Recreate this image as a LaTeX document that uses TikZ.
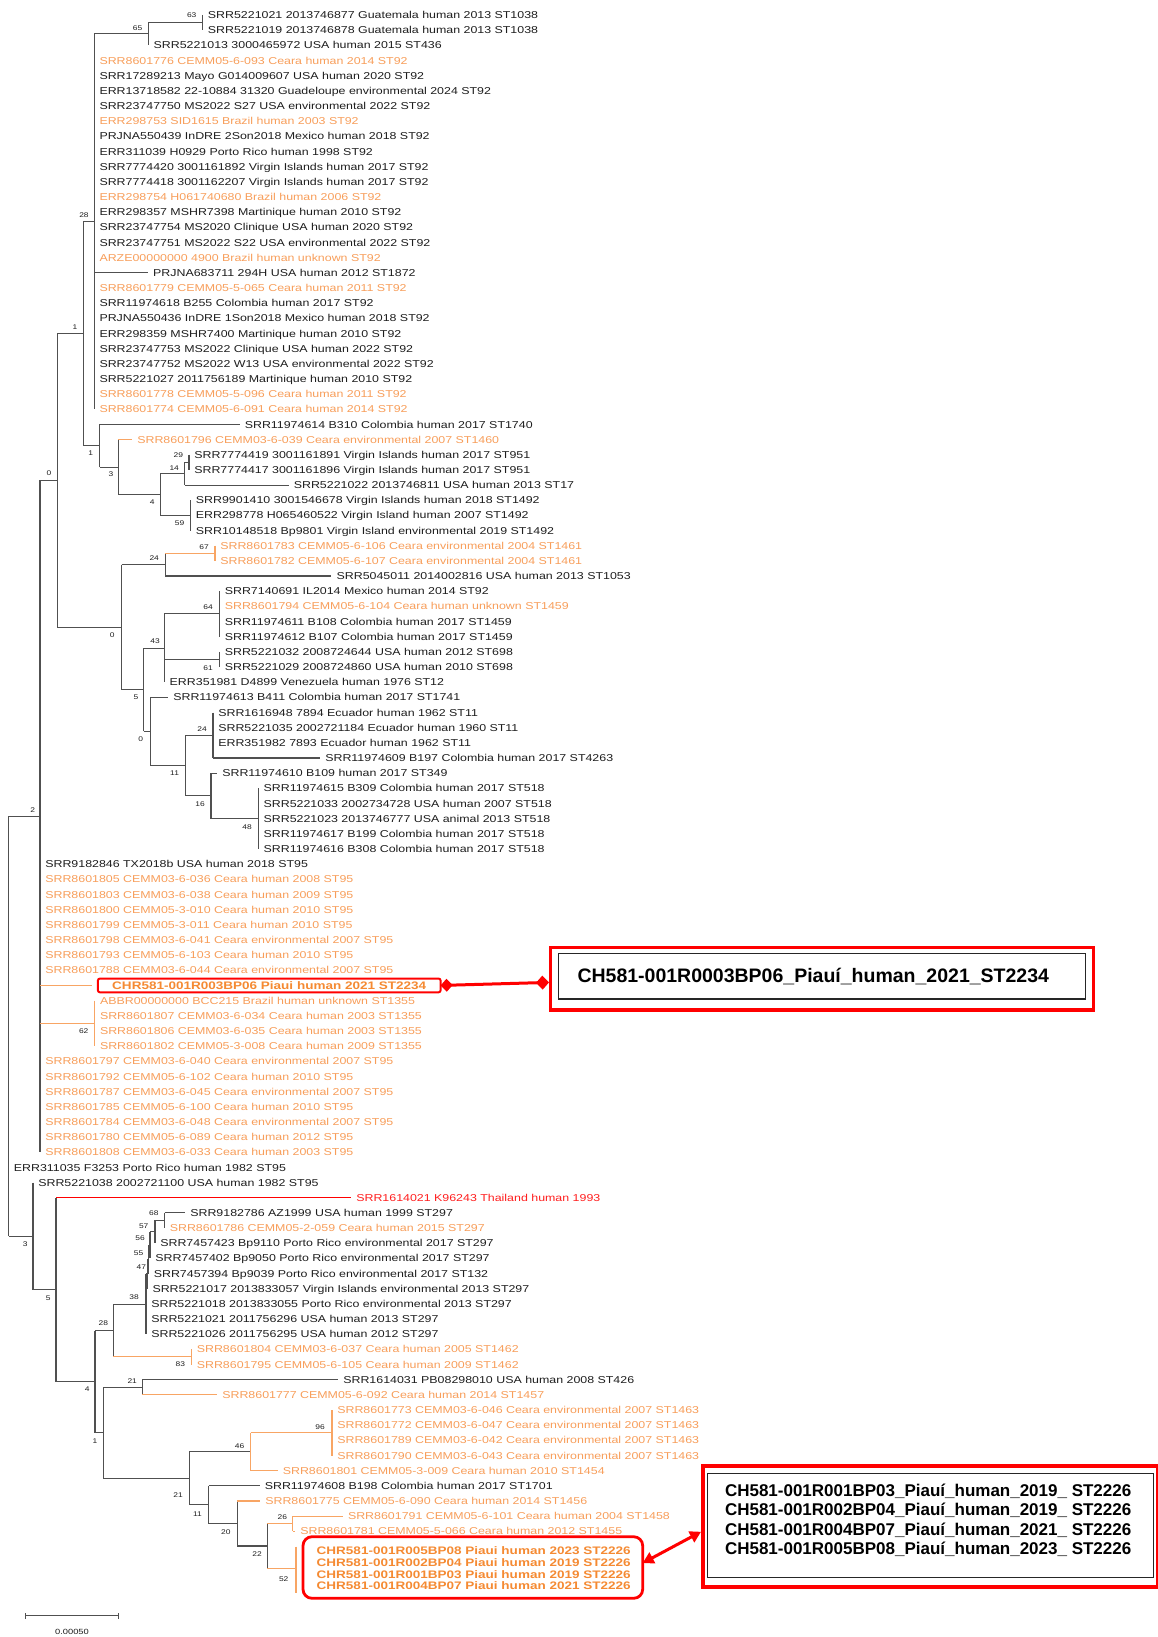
\documentclass[tikz,border=0pt]{standalone}
\usepackage{fontspec}
\setmainfont{Liberation Sans}[FakeStretch=1.24]
\newfontfamily\boxfont{Liberation Sans}
\usetikzlibrary{arrows.meta}
\definecolor{txtbk}{RGB}{30,30,30}
\definecolor{txtor}{RGB}{248,158,90}
\definecolor{treeor}{RGB}{248,165,100}
\definecolor{boldor}{RGB}{245,138,50}
\definecolor{txtred}{RGB}{255,30,30}
\definecolor{bred}{RGB}{255,0,0}
\definecolor{treegr}{RGB}{80,80,80}
\newcommand\ry[1]{15+(#1-1)*15.163}
\newcommand\leafnode[4][lf]{\node[#1] (l#2) at (#3,{\ry{#2}}) {#4};}
\newcommand\hb[3][br]{\draw[#1] (#2 |- #3) -- (#3);}
\newcommand\vb[4][br]{\draw[#1] (#2 |- #3) -- (#2 |- #4);}
\begin{document}
\begin{tikzpicture}[x=1pt,y=-1pt,
 br/.style={draw=treegr, line width=1.1pt},
 bro/.style={draw=treeor, line width=1.1pt},
 brr/.style={draw=bred, line width=1.1pt},
 lf/.style={anchor=west, inner xsep=5.3pt, inner ysep=0pt, outer sep=0pt, font=\fontsize{10}{12}\selectfont, text height=7.2pt, text depth=0pt, text=txtbk},
 lfo/.style={lf, text=txtor},
 lfr/.style={lf, text=txtred},
 lfb/.style={anchor=west, inner sep=0pt, outer sep=0pt, font=\bfseries\fontsize{10.9}{12}\selectfont, text=boldor, text height=7.8pt, text depth=0pt},
 bs/.style={inner sep=0pt, outer sep=0pt, font=\fontsize{6.8}{8}\selectfont, text height=4.9pt, text depth=0pt, text=txtbk},
 bxt/.style={anchor=west, inner sep=0pt, outer sep=0pt, text=black, font=\boxfont\bfseries\fontsize{17}{19}\selectfont, text height=12.2pt, text depth=0pt}
]
\fill[white] (0,0) rectangle (1158,1637);
\useasboundingbox (0,0) rectangle (1158,1637);

% ---------- leaves ----------
\leafnode{1}{202.6}{SRR5221021 2013746877 Guatemala human 2013 ST1038}
\leafnode{2}{202.6}{SRR5221019 2013746878 Guatemala human 2013 ST1038}
\leafnode{3}{148.3}{SRR5221013 3000465972 USA human 2015 ST436}
\leafnode[lfo]{4}{94.2}{SRR8601776 CEMM05-6-093 Ceara human 2014 ST92}
\leafnode{5}{94.2}{SRR17289213 Mayo G014009607 USA human 2020 ST92}
\leafnode{6}{94.2}{ERR13718582 22-10884 31320 Guadeloupe environmental 2024 ST92}
\leafnode{7}{94.2}{SRR23747750 MS2022 S27 USA environmental 2022 ST92}
\leafnode[lfo]{8}{94.2}{ERR298753 SID1615 Brazil human 2003 ST92}
\leafnode{9}{94.2}{PRJNA550439 InDRE 2Son2018 Mexico human 2018 ST92}
\leafnode{10}{94.2}{ERR311039 H0929 Porto Rico human 1998 ST92}
\leafnode{11}{94.2}{SRR7774420 3001161892 Virgin Islands human 2017 ST92}
\leafnode{12}{94.2}{SRR7774418 3001162207 Virgin Islands human 2017 ST92}
\leafnode[lfo]{13}{94.2}{ERR298754 H061740680 Brazil human 2006 ST92}
\leafnode{14}{94.2}{ERR298357 MSHR7398 Martinique human 2010 ST92}
\leafnode{15}{94.2}{SRR23747754 MS2020 Clinique USA human 2020 ST92}
\leafnode{16}{94.2}{SRR23747751 MS2022 S22 USA environmental 2022 ST92}
\leafnode[lfo]{17}{94.2}{ARZE00000000 4900 Brazil human unknown ST92}
\leafnode{18}{147.9}{PRJNA683711 294H USA human 2012 ST1872}
\leafnode[lfo]{19}{94.2}{SRR8601779 CEMM05-5-065 Ceara human 2011 ST92}
\leafnode{20}{94.2}{SRR11974618 B255 Colombia human 2017 ST92}
\leafnode{21}{94.2}{PRJNA550436 InDRE 1Son2018 Mexico human 2018 ST92}
\leafnode{22}{94.2}{ERR298359 MSHR7400 Martinique human 2010 ST92}
\leafnode{23}{94.2}{SRR23747753 MS2022 Clinique USA human 2022 ST92}
\leafnode{24}{94.2}{SRR23747752 MS2022 W13 USA environmental 2022 ST92}
\leafnode{25}{94.2}{SRR5221027 2011756189 Martinique human 2010 ST92}
\leafnode[lfo]{26}{94.2}{SRR8601778 CEMM05-5-096 Ceara human 2011 ST92}
\leafnode[lfo]{27}{94.2}{SRR8601774 CEMM05-6-091 Ceara human 2014 ST92}
\leafnode{28}{239.5}{SRR11974614 B310 Colombia human 2017 ST1740}
\leafnode[lfo]{29}{132}{SRR8601796 CEMM03-6-039 Ceara environmental 2007 ST1460}
\leafnode{30}{189}{SRR7774419 3001161891 Virgin Islands human 2017 ST951}
\leafnode{31}{189}{SRR7774417 3001161896 Virgin Islands human 2017 ST951}
\leafnode{32}{288.5}{SRR5221022 2013746811 USA human 2013 ST17}
\leafnode{33}{190.6}{SRR9901410 3001546678 Virgin Islands human 2018 ST1492}
\leafnode{34}{190.6}{ERR298778 H065460522 Virgin Island human 2007 ST1492}
\leafnode{35}{190.6}{SRR10148518 Bp9801 Virgin Island environmental 2019 ST1492}
\leafnode[lfo]{36}{215}{SRR8601783 CEMM05-6-106 Ceara environmental 2004 ST1461}
\leafnode[lfo]{37}{215}{SRR8601782 CEMM05-6-107 Ceara environmental 2004 ST1461}
\leafnode{38}{331.3}{SRR5045011 2014002816 USA human 2013 ST1053}
\leafnode{39}{219.5}{SRR7140691 IL2014 Mexico human 2014 ST92}
\leafnode[lfo]{40}{219.5}{SRR8601794 CEMM05-6-104 Ceara human unknown ST1459}
\leafnode{41}{219.5}{SRR11974611 B108 Colombia human 2017 ST1459}
\leafnode{42}{219.5}{SRR11974612 B107 Colombia human 2017 ST1459}
\leafnode{43}{219.5}{SRR5221032 2008724644 USA human 2012 ST698}
\leafnode{44}{219.5}{SRR5221029 2008724860 USA human 2010 ST698}
\leafnode{45}{164.4}{ERR351981 D4899 Venezuela human 1976 ST12}
\leafnode{46}{168}{SRR11974613 B411 Colombia human 2017 ST1741}
\leafnode{47}{213}{SRR1616948 7894 Ecuador human 1962 ST11}
\leafnode{48}{213}{SRR5221035 2002721184 Ecuador human 1960 ST11}
\leafnode{49}{213}{ERR351982 7893 Ecuador human 1962 ST11}
\leafnode{50}{320}{SRR11974609 B197 Colombia human 2017 ST4263}
\leafnode{51}{217}{SRR11974610 B109 human 2017 ST349}
\leafnode{52}{258.3}{SRR11974615 B309 Colombia human 2017 ST518}
\leafnode{53}{258.3}{SRR5221033 2002734728 USA human 2007 ST518}
\leafnode{54}{258.3}{SRR5221023 2013746777 USA animal 2013 ST518}
\leafnode{55}{258.3}{SRR11974617 B199 Colombia human 2017 ST518}
\leafnode{56}{258.3}{SRR11974616 B308 Colombia human 2017 ST518}
\leafnode{57}{40}{SRR9182846 TX2018b USA human 2018 ST95}
\leafnode[lfo]{58}{40}{SRR8601805 CEMM03-6-036 Ceara human 2008 ST95}
\leafnode[lfo]{59}{40}{SRR8601803 CEMM03-6-038 Ceara human 2009 ST95}
\leafnode[lfo]{60}{40}{SRR8601800 CEMM05-3-010 Ceara human 2010 ST95}
\leafnode[lfo]{61}{40}{SRR8601799 CEMM05-3-011 Ceara human 2010 ST95}
\leafnode[lfo]{62}{40}{SRR8601798 CEMM03-6-041 Ceara environmental 2007 ST95}
\leafnode[lfo]{63}{40}{SRR8601793 CEMM05-6-103 Ceara human 2010 ST95}
\leafnode[lfo]{64}{40}{SRR8601788 CEMM03-6-044 Ceara environmental 2007 ST95}
\node[lfb, draw=bred, line width=2pt, rounded corners=2pt, minimum width=342.7pt, minimum height=13.7pt] (l65) at (97.9,{\ry{65}}) {CHR581-001R003BP06 Piaui human 2021 ST2234};
\leafnode[lfo]{66}{94.7}{ABBR00000000 BCC215 Brazil human unknown ST1355}
\leafnode[lfo]{67}{94.7}{SRR8601807 CEMM03-6-034 Ceara human 2003 ST1355}
\leafnode[lfo]{68}{94.7}{SRR8601806 CEMM03-6-035 Ceara human 2003 ST1355}
\leafnode[lfo]{69}{94.7}{SRR8601802 CEMM05-3-008 Ceara human 2009 ST1355}
\leafnode[lfo]{70}{40}{SRR8601797 CEMM03-6-040 Ceara environmental 2007 ST95}
\leafnode[lfo]{71}{40}{SRR8601792 CEMM05-6-102 Ceara human 2010 ST95}
\leafnode[lfo]{72}{40}{SRR8601787 CEMM03-6-045 Ceara environmental 2007 ST95}
\leafnode[lfo]{73}{40}{SRR8601785 CEMM05-6-100 Ceara human 2010 ST95}
\leafnode[lfo]{74}{40}{SRR8601784 CEMM03-6-048 Ceara environmental 2007 ST95}
\leafnode[lfo]{75}{40}{SRR8601780 CEMM05-6-089 Ceara human 2012 ST95}
\leafnode[lfo]{76}{40}{SRR8601808 CEMM03-6-033 Ceara human 2003 ST95}
\leafnode{77}{8.6}{ERR311035 F3253 Porto Rico human 1982 ST95}
\leafnode{78}{33}{SRR5221038 2002721100 USA human 1982 ST95}
\leafnode[lfr]{79}{351}{SRR1614021 K96243 Thailand human 1993}
\leafnode{80}{185}{SRR9182786 AZ1999 USA human 1999 ST297}
\leafnode[lfo]{81}{164.5}{SRR8601786 CEMM05-2-059 Ceara human 2015 ST297}
\leafnode{82}{155}{SRR7457423 Bp9110 Porto Rico environmental 2017 ST297}
\leafnode{83}{150}{SRR7457402 Bp9050 Porto Rico environmental 2017 ST297}
\leafnode{84}{148.5}{SRR7457394 Bp9039 Porto Rico environmental 2017 ST132}
\leafnode{85}{147.2}{SRR5221017 2013833057 Virgin Islands environmental 2013 ST297}
\leafnode{86}{146}{SRR5221018 2013833055 Porto Rico environmental 2013 ST297}
\leafnode{87}{146}{SRR5221021 2011756296 USA human 2013 ST297}
\leafnode{88}{146}{SRR5221026 2011756295 USA human 2012 ST297}
\leafnode[lfo]{89}{191.5}{SRR8601804 CEMM03-6-037 Ceara human 2005 ST1462}
\leafnode[lfo]{90}{191.5}{SRR8601795 CEMM05-6-105 Ceara human 2009 ST1462}
\leafnode{91}{338}{SRR1614031 PB08298010 USA human 2008 ST426}
\leafnode[lfo]{92}{217}{SRR8601777 CEMM05-6-092 Ceara human 2014 ST1457}
\leafnode[lfo]{93}{332}{SRR8601773 CEMM03-6-046 Ceara environmental 2007 ST1463}
\leafnode[lfo]{94}{332}{SRR8601772 CEMM03-6-047 Ceara environmental 2007 ST1463}
\leafnode[lfo]{95}{332}{SRR8601789 CEMM03-6-042 Ceara environmental 2007 ST1463}
\leafnode[lfo]{96}{332}{SRR8601790 CEMM03-6-043 Ceara environmental 2007 ST1463}
\leafnode[lfo]{97}{277.5}{SRR8601801 CEMM05-3-009 Ceara human 2010 ST1454}
\leafnode{98}{259.5}{SRR11974608 B198 Colombia human 2017 ST1701}
\leafnode[lfo]{99}{260}{SRR8601775 CEMM05-6-090 Ceara human 2014 ST1456}
\leafnode[lfo]{100}{342.7}{SRR8601791 CEMM05-6-101 Ceara human 2004 ST1458}
\leafnode[lfo]{101}{295}{SRR8601781 CEMM05-5-066 Ceara human 2012 ST1455}
\node[lfb] (l102) at (316.7,1550.6) {CHR581-001R005BP08 Piaui human 2023 ST2226};
\node[lfb] (l103) at (316.7,1562.4) {CHR581-001R002BP04 Piaui human 2019 ST2226};
\node[lfb] (l104) at (316.7,1574.2) {CHR581-001R001BP03 Piaui human 2019 ST2226};
\node[lfb] (l105) at (316.7,1586) {CHR581-001R004BP07 Piaui human 2021 ST2226};

% ---------- internal nodes ----------
\coordinate (n63) at (202.6,22.58);
\coordinate (n65) at (148.3,33.95);
\coordinate (n28) at (94.2,221.6);
\coordinate (n1) at (83.4,333.66);
\coordinate (n29) at (189,462.31);
\coordinate (n14) at (184.8,473.68);
\coordinate (n59) at (190.6,515.38);
\coordinate (n4) at (160.4,494.53);
\coordinate (n3) at (118.4,467.05);
\coordinate (n1b) at (99.5,445.72);
\coordinate (n0) at (57.1,480.43);
\coordinate (n67) at (215,553.29);
\coordinate (n24a) at (165.2,564.66);
\coordinate (n64) at (219.5,613.94);
\coordinate (n61) at (219.5,659.43);
\coordinate (n43) at (164.4,648.05);
\coordinate (n24b) at (213,735.24);
\coordinate (n48) at (258.3,818.64);
\coordinate (n16) at (211,795.9);
\coordinate (n11) at (185.7,765.57);
\coordinate (n0c) at (150.1,731.45);
\coordinate (n5) at (143.6,689.75);
\coordinate (n0b) at (121.6,627.2);
\coordinate (n62) at (94.7,1023.34);
\coordinate (n2) at (40,816.33);
\coordinate (c65) at (91.8,{\ry{65}});
\coordinate (nroot) at (8.6,1026.2);
\coordinate (n3r) at (33,1236.1);
\coordinate (n5r) at (56,1289.7);
\coordinate (n68) at (164.5,1220.46);
\coordinate (n57) at (155,1231.8);
\coordinate (n56) at (150,1245.1);
\coordinate (n55) at (148.5,1259.3);
\coordinate (n47) at (147.2,1274);
\coordinate (n38) at (146,1304.1);
\coordinate (n83) at (191.5,1356.93);
\coordinate (n28r) at (113.4,1330.5);
\coordinate (n21a) at (142.3,1387.25);
\coordinate (n96) at (332,1432.74);
\coordinate (n46) at (250.6,1451.7);
\coordinate (n26) at (292.8,1523.7);
\coordinate (n52) at (296,1568.3);
\coordinate (n52t) at (296,1546.7);
\coordinate (n52b) at (296,1592.7);
\coordinate (n22) at (267.1,1546);
\coordinate (n20) at (237.3,1523.5);
\coordinate (n11r) at (208.8,1504.7);
\coordinate (n21b) at (189.1,1478.2);
\coordinate (n1r) at (103.3,1432.7);
\coordinate (n4r) at (95,1381.6);

% ---------- branches ----------
\vb{n63}{l1.west}{l2.west}
\vb{n65}{n63}{l3.west} \hb{n65}{n63}
\vb{n28}{n65}{l27.west} \hb{n28}{n65} \hb{n28}{l18.west}
\vb{n1}{n28}{n1b} \hb{n1}{n28} \hb{n1}{n1b}
\vb{n1b}{l28.west}{n3} \hb{n1b}{l28.west} \hb{n1b}{n3}
\vb{n3}{l29.west}{n4} \hb[bro]{n3}{l29.west} \hb{n3}{n4}
\vb{n4}{n14}{n59} \hb{n4}{n14} \hb{n4}{n59}
\vb{n14}{n29}{l32.west} \hb{n14}{n29} \hb{n14}{l32.west}
\vb{n29}{l30.west}{l31.west}
\vb{n59}{l33.west}{l35.west}
\vb{n0}{n1}{n0b} \hb{n0}{n1} \hb{n0}{n0b}
\vb{n0b}{n24a}{n5} \hb{n0b}{n24a} \hb{n0b}{n5}
\vb{n24a}{n67}{l38.west} \hb[bro]{n24a}{n67} \hb{n24a}{l38.west}
\vb[bro]{n67}{l36.west}{l37.west}
\vb{n5}{n43}{n0c} \hb{n5}{n43} \hb{n5}{n0c}
\vb{n43}{n64}{l45.west} \hb{n43}{n64} \hb{n43}{n61}
\vb{n64}{l39.west}{l42.west}
\vb{n61}{l43.west}{l44.west}
\vb{n0c}{l46.west}{n11} \hb{n0c}{l46.west} \hb{n0c}{n11}
\vb{n11}{n24b}{n16} \hb{n11}{n24b} \hb{n11}{n16}
\vb{n24b}{l47.west}{l50.west} \hb{n24b}{l50.west}
\vb{n16}{l51.west}{n48} \hb{n16}{l51.west} \hb{n16}{n48}
\vb{n48}{l52.west}{l56.west}
\vb{n2}{n0}{l76.west} \hb{n2}{n0} \hb[bro]{n2}{n62} \hb[bro]{n2}{c65}
\vb[bro]{n62}{l66.west}{l69.west}
\vb{nroot}{n2}{n3r} \hb{nroot}{n2} \hb{nroot}{n3r}
\vb{n3r}{l78.west}{n5r} \hb{n3r}{n5r}
\vb{n5r}{l79.west}{n4r} \hb[brr]{n5r}{l79.west} \hb{n5r}{n4r}
\vb{n4r}{n28r}{n1r} \hb{n4r}{n28r} \hb{n4r}{n1r}
\vb{n28r}{n38}{n83} \hb{n28r}{n38} \hb[bro]{n28r}{n83}
\vb[bro]{n83}{l89.west}{l90.west}
\vb{n38}{n47}{l88.west} \hb{n38}{n47}
\vb{n47}{n55}{l85.west} \hb{n47}{n55}
\vb{n55}{n56}{l84.west} \hb{n55}{n56}
\vb{n56}{n57}{l83.west} \hb{n56}{n57}
\vb{n57}{n68}{l82.west} \hb{n57}{n68}
\vb{n68}{l80.west}{l81.west} \hb{n68}{l80.west}
\vb{n1r}{n21a}{n21b} \hb{n1r}{n21a} \hb{n1r}{n21b}
\vb{n21a}{l91.west}{l92.west} \hb{n21a}{l91.west} \hb[bro]{n21a}{l92.west}
\vb{n21b}{n46}{n11r} \hb{n21b}{n46} \hb{n21b}{n11r}
\vb[bro]{n46}{n96}{l97.west} \hb[bro]{n46}{n96} \hb[bro]{n46}{l97.west}
\vb[bro]{n96}{l93.west}{l96.west}
\vb{n11r}{l98.west}{n20} \hb{n11r}{l98.west} \hb{n11r}{n20}
\vb{n20}{l99.west}{n22} \hb[bro]{n20}{l99.west} \hb{n20}{n22}
\vb{n22}{n26}{n52} \hb[bro]{n22}{n26} \hb[bro]{n22}{n52}
\vb[bro]{n26}{l100.west}{l101.west} \hb[bro]{n26}{l100.west} \hb[bro]{n26}{l101.west}
\draw[bro, line width=2.2pt] (n52t) -- (n52b);

% ---------- bootstrap values ----------
\node[bs] (b01) at (191.7,15) {63};
\node[bs] (b02) at (137.5,28) {65};
\node[bs] (b03) at (84,215) {28};
\node[bs] (b04) at (75,326.7) {1};
\node[bs] (b05) at (49,473.3) {0};
\node[bs] (b06) at (90.6,453.3) {1};
\node[bs] (b07) at (111,474) {3};
\node[bs] (b08) at (178.3,455.3) {29};
\node[bs] (b09) at (174.2,467.7) {14};
\node[bs] (b10) at (152.2,502.3) {4};
\node[bs] (b11) at (179.5,523.3) {59};
\node[bs] (b12) at (204,546.7) {67};
\node[bs] (b13) at (154.2,558.3) {24};
\node[bs] (b14) at (112.2,635) {0};
\node[bs] (b15) at (208,606.7) {64};
\node[bs] (b16) at (155,641) {43};
\node[bs] (b17) at (208,667.7) {61};
\node[bs] (b18) at (135.9,697.3) {5};
\node[bs] (b19) at (202,728.7) {24};
\node[bs] (b20) at (140.8,739.3) {0};
\node[bs] (b21) at (174.6,773.3) {11};
\node[bs] (b22) at (200,804) {16};
\node[bs] (b23) at (247,826.7) {48};
\node[bs] (b24) at (32.7,810) {2};
\node[bs] (b25) at (83.7,1031) {62};
\node[bs] (b26) at (25.2,1244) {3};
\node[bs] (b27) at (48.2,1297.7) {5};
\node[bs] (b28) at (153.8,1212.7) {68};
\node[bs] (b29) at (143.7,1225.7) {57};
\node[bs] (b30) at (140,1238.3) {56};
\node[bs] (b31) at (138.6,1252.7) {55};
\node[bs] (b32) at (141.4,1266.7) {47};
\node[bs] (b33) at (134,1296.7) {38};
\node[bs] (b34) at (103.3,1323.3) {28};
\node[bs] (b35) at (180.4,1364.3) {83};
\node[bs] (b36) at (87.2,1389.3) {4};
\node[bs] (b37) at (132.2,1380.7) {21};
\node[bs] (b38) at (95,1440.7) {1};
\node[bs] (b39) at (320,1426.7) {96};
\node[bs] (b40) at (239.6,1445.7) {46};
\node[bs] (b41) at (178,1495.3) {21};
\node[bs] (b42) at (197.4,1514) {11};
\node[bs] (b43) at (282.3,1517.3) {26};
\node[bs] (b44) at (225.8,1532.3) {20};
\node[bs] (b45) at (257,1554.3) {22};
\node[bs] (b46) at (283.7,1579) {52};

% ---------- scale bar ----------
\coordinate (sb1) at (25.2,1615.7);
\coordinate (sb2) at (118.4,1615.7);
\draw[treegr, line width=0.9pt] (sb1) -- (sb2);
\draw[treegr, line width=0.9pt] ([yshift=-3pt]sb1) -- ([yshift=3pt]sb1);
\draw[treegr, line width=0.9pt] ([yshift=-3pt]sb2) -- ([yshift=3pt]sb2);
\node[bs, font=\fontsize{7.5}{9}\selectfont] (sbl) at (72,1631.7) {0.00050};

% ---------- highlight box around ST2226 group ----------
\node[draw=bred, line width=2.8pt, rounded corners=9pt, minimum width=339.7pt, minimum height=61.6pt, anchor=north west, inner sep=0pt, outer sep=0pt] (chr4box) at (303,1536.7) {};

% ---------- callout box 1 ----------
\node[draw=bred, line width=3.3pt, minimum width=542.6pt, minimum height=62.3pt, anchor=north west, inner sep=0pt] (box1) at (549,946) {};
\node[draw=black!85, line width=1.2pt, minimum width=526.6pt, minimum height=45.6pt, anchor=north west, inner sep=0pt] (box1in) at (557.9,952.7) {};
\node[bxt, font=\boxfont\bfseries\fontsize{19.5}{22}\selectfont, text height=14pt] (box1t) at (577.5,975.5) {CH581-001R0003BP06\_Piauí\_human\_2021\_ST2234};
\draw[bred, line width=3pt, {Diamond[length=12pt,width=13pt]}-{Diamond[length=13pt,width=14pt]}] (l65.east) -- ([yshift=-3.6pt]box1.west);

% ---------- callout box 2 ----------
\node[draw=bred, line width=3.5pt, minimum width=455pt, minimum height=121pt, anchor=north west, inner sep=0pt] (box2) at (701,1464) {};
\node[draw=black!85, line width=1.2pt, minimum width=446pt, minimum height=104.3pt, anchor=north west, inner sep=0pt] (box2in) at (707,1472.7) {};
\node[bxt] (b2t1) at (725,1490) {CH581-001R001BP03\_Piauí\_human\_2019\_ ST2226};
\node[bxt] (b2t2) at (725,1509.5) {CH581-001R002BP04\_Piauí\_human\_2019\_ ST2226};
\node[bxt] (b2t3) at (725,1529) {CH581-001R004BP07\_Piauí\_human\_2021\_ ST2226};
\node[bxt] (b2t4) at (725,1548.5) {CH581-001R005BP08\_Piauí\_human\_2023\_ ST2226};
\draw[bred, line width=3pt, {Triangle[length=11pt,width=12pt]}-{Triangle[length=11pt,width=12pt]}] ([yshift=4.5pt]chr4box.east) -- ([yshift=-5.5pt]box2.west);
\end{tikzpicture}
\end{document}
